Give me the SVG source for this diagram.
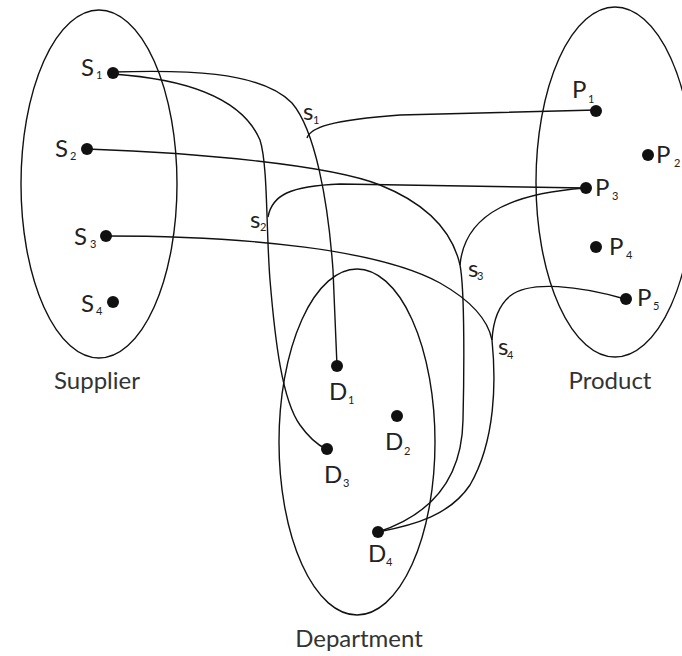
<svg xmlns="http://www.w3.org/2000/svg" width="682" height="656" viewBox="0 0 682 656">
<style>
.set{fill:none;stroke:#111;stroke-width:1.4}
.edge{fill:none;stroke:#111;stroke-width:1.4}
.dot{fill:#111}
text{font-family:Lato,"Liberation Sans",sans-serif;fill:#222}
.lbl{font-size:24px}
.sub{font-size:11px}
.title{font-size:24px;text-anchor:middle;fill:#333}
</style>
<rect width="682" height="656" fill="#fff"/>
<g id="set-supplier">
<ellipse class="set" cx="99" cy="184" rx="78" ry="174"/>
<text class="title" x="97" y="389">Supplier</text>
</g>
<g id="set-product">
<ellipse class="set" cx="615" cy="182" rx="79" ry="175"/>
<text class="title" x="610" y="389">Product</text>
</g>
<g id="set-department">
<ellipse class="set" cx="357" cy="442" rx="78" ry="173"/>
<text class="title" x="359" y="647">Department</text>
</g>
<g id="connectors">
<path class="edge" d="M113,72 C180,70 260,70 292,103 C315,130 328,200 333,270 L337,366"/>
<path class="edge" d="M307,138 C310,128 330,120 400,115 L596,110"/>
<path class="edge" d="M113,74 C200,80 245,105 260,140 C268,165 266,230 270,280 C275,340 282,400 300,425 Q312,442 326,449"/>
<path class="edge" d="M268,217 C272,195 290,186 340,184 L585,188"/>
<path class="edge" d="M87,149 C200,153 330,165 380,185 C425,203 452,230 460,265 C465,290 464,380 463,420 C462,480 430,515 378,532"/>
<path class="edge" d="M585,188 C520,193 465,210 460,265"/>
<path class="edge" d="M106,236 C250,236 380,250 440,283 C470,300 488,320 492,340 C496,380 496,440 470,485 C450,515 415,525 378,532"/>
<path class="edge" d="M625,299 C580,286 530,280 510,296 C498,306 493,322 492,340"/>
<g id="rel-labels">
<text class="lbl" x="303" y="120">s<tspan class="sub" x="313" y="124">1</tspan></text>
<text class="lbl" x="250" y="228">s<tspan class="sub" x="260" y="231">2</tspan></text>
<text class="lbl" x="468" y="277">s<tspan class="sub" x="477" y="280">3</tspan></text>
<text class="lbl" x="498" y="355">s<tspan class="sub" x="507" y="359">4</tspan></text>
</g>
</g>
<g id="S1"><circle class="dot" cx="113" cy="73" r="6"/><text class="lbl" x="81" y="76">S<tspan class="sub" x="96" y="79">1</tspan></text></g>
<g id="S2"><circle class="dot" cx="87" cy="149" r="6"/><text class="lbl" x="55" y="157">S<tspan class="sub" x="70" y="160">2</tspan></text></g>
<g id="S3"><circle class="dot" cx="106" cy="236" r="6"/><text class="lbl" x="74" y="245">S<tspan class="sub" x="90" y="248">3</tspan></text></g>
<g id="S4"><circle class="dot" cx="113" cy="302" r="6"/><text class="lbl" x="81" y="312">S<tspan class="sub" x="96" y="315">4</tspan></text></g>
<g id="P1"><circle class="dot" cx="596" cy="111" r="6"/><text class="lbl" x="572" y="98">P<tspan class="sub" x="588" y="103">1</tspan></text></g>
<g id="P2"><circle class="dot" cx="648" cy="155" r="6"/><text class="lbl" x="656" y="163">P<tspan class="sub" x="674" y="167">2</tspan></text></g>
<g id="P3"><circle class="dot" cx="586" cy="188" r="6"/><text class="lbl" x="595" y="196">P<tspan class="sub" x="612" y="200">3</tspan></text></g>
<g id="P4"><circle class="dot" cx="596" cy="247" r="6"/><text class="lbl" x="609" y="255">P<tspan class="sub" x="626" y="259">4</tspan></text></g>
<g id="P5"><circle class="dot" cx="626" cy="299" r="6"/><text class="lbl" x="637" y="306">P<tspan class="sub" x="653" y="310">5</tspan></text></g>
<g id="D1"><circle class="dot" cx="337" cy="366" r="6"/><text class="lbl" x="329" y="400">D<tspan class="sub" x="348" y="404">1</tspan></text></g>
<g id="D2"><circle class="dot" cx="397" cy="416" r="6"/><text class="lbl" x="385" y="450">D<tspan class="sub" x="404" y="455">2</tspan></text></g>
<g id="D3"><circle class="dot" cx="327" cy="449" r="6"/><text class="lbl" x="324" y="483">D<tspan class="sub" x="343" y="487">3</tspan></text></g>
<g id="D4"><circle class="dot" cx="378" cy="532" r="6"/><text class="lbl" x="368" y="562">D<tspan class="sub" x="386" y="566">4</tspan></text></g>
</svg>
